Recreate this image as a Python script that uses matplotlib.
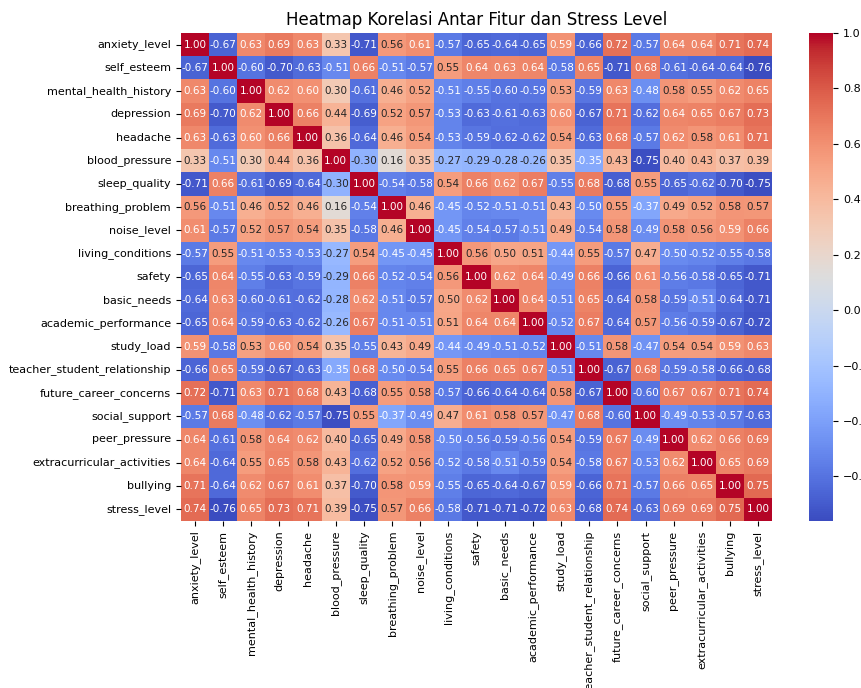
import numpy as np
import matplotlib
matplotlib.use("Agg")
import matplotlib.pyplot as plt
import seaborn as sns

# Feature names (same order on both axes)
features = [
    "anxiety_level", "self_esteem", "mental_health_history", "depression",
    "headache", "blood_pressure", "sleep_quality", "breathing_problem",
    "noise_level", "living_conditions", "safety", "basic_needs",
    "academic_performance", "study_load", "teacher_student_relationship",
    "future_career_concerns", "social_support", "peer_pressure",
    "extracurricular_activities", "bullying", "stress_level",
]

# Correlation values
anxiety_level = [1.00, -0.67, 0.63, 0.69, 0.63, 0.33, -0.71, 0.56, 0.61, -0.57, -0.65, -0.64, -0.65, 0.59, -0.66, 0.72, -0.57, 0.64, 0.64, 0.71, 0.74]
self_esteem = [-0.67, 1.00, -0.60, -0.70, -0.63, -0.51, 0.66, -0.51, -0.57, 0.55, 0.64, 0.63, 0.64, -0.58, 0.65, -0.71, 0.68, -0.61, -0.64, -0.64, -0.76]
mental_health_history = [0.63, -0.60, 1.00, 0.62, 0.60, 0.30, -0.61, 0.46, 0.52, -0.51, -0.55, -0.60, -0.59, 0.53, -0.59, 0.63, -0.48, 0.58, 0.55, 0.62, 0.65]
depression = [0.69, -0.70, 0.62, 1.00, 0.66, 0.44, -0.69, 0.52, 0.57, -0.53, -0.63, -0.61, -0.63, 0.60, -0.67, 0.71, -0.62, 0.64, 0.65, 0.67, 0.73]
headache = [0.63, -0.63, 0.60, 0.66, 1.00, 0.36, -0.64, 0.46, 0.54, -0.53, -0.59, -0.62, -0.62, 0.54, -0.63, 0.68, -0.57, 0.62, 0.58, 0.61, 0.71]
blood_pressure = [0.33, -0.51, 0.30, 0.44, 0.36, 1.00, -0.30, 0.16, 0.35, -0.27, -0.29, -0.28, -0.26, 0.35, -0.35, 0.43, -0.75, 0.40, 0.43, 0.37, 0.39]
sleep_quality = [-0.71, 0.66, -0.61, -0.69, -0.64, -0.30, 1.00, -0.54, -0.58, 0.54, 0.66, 0.62, 0.67, -0.55, 0.68, -0.68, 0.55, -0.65, -0.62, -0.70, -0.75]
breathing_problem = [0.56, -0.51, 0.46, 0.52, 0.46, 0.16, -0.54, 1.00, 0.46, -0.45, -0.52, -0.51, -0.51, 0.43, -0.50, 0.55, -0.37, 0.49, 0.52, 0.58, 0.57]
noise_level = [0.61, -0.57, 0.52, 0.57, 0.54, 0.35, -0.58, 0.46, 1.00, -0.45, -0.54, -0.57, -0.51, 0.49, -0.54, 0.58, -0.49, 0.58, 0.56, 0.59, 0.66]
living_conditions = [-0.57, 0.55, -0.51, -0.53, -0.53, -0.27, 0.54, -0.45, -0.45, 1.00, 0.56, 0.50, 0.51, -0.44, 0.55, -0.57, 0.47, -0.50, -0.52, -0.55, -0.58]
safety = [-0.65, 0.64, -0.55, -0.63, -0.59, -0.29, 0.66, -0.52, -0.54, 0.56, 1.00, 0.62, 0.64, -0.49, 0.66, -0.66, 0.61, -0.56, -0.58, -0.65, -0.71]
basic_needs = [-0.64, 0.63, -0.60, -0.61, -0.62, -0.28, 0.62, -0.51, -0.57, 0.50, 0.62, 1.00, 0.64, -0.51, 0.65, -0.64, 0.58, -0.59, -0.51, -0.64, -0.71]
academic_performance = [-0.65, 0.64, -0.59, -0.63, -0.62, -0.26, 0.67, -0.51, -0.51, 0.51, 0.64, 0.64, 1.00, -0.52, 0.67, -0.64, 0.57, -0.56, -0.59, -0.67, -0.72]
study_load = [0.59, -0.58, 0.53, 0.60, 0.54, 0.35, -0.55, 0.43, 0.49, -0.44, -0.49, -0.51, -0.52, 1.00, -0.51, 0.58, -0.47, 0.54, 0.54, 0.59, 0.63]
teacher_student_relationship = [-0.66, 0.65, -0.59, -0.67, -0.63, -0.35, 0.68, -0.50, -0.54, 0.55, 0.66, 0.65, 0.67, -0.51, 1.00, -0.67, 0.68, -0.59, -0.58, -0.66, -0.68]
future_career_concerns = [0.72, -0.71, 0.63, 0.71, 0.68, 0.43, -0.68, 0.55, 0.58, -0.57, -0.66, -0.64, -0.64, 0.58, -0.67, 1.00, -0.60, 0.67, 0.67, 0.71, 0.74]
social_support = [-0.57, 0.68, -0.48, -0.62, -0.57, -0.75, 0.55, -0.37, -0.49, 0.47, 0.61, 0.58, 0.57, -0.47, 0.68, -0.60, 1.00, -0.49, -0.53, -0.57, -0.63]
peer_pressure = [0.64, -0.61, 0.58, 0.64, 0.62, 0.40, -0.65, 0.49, 0.58, -0.50, -0.56, -0.59, -0.56, 0.54, -0.59, 0.67, -0.49, 1.00, 0.62, 0.66, 0.69]
extracurricular_activities = [0.64, -0.64, 0.55, 0.65, 0.58, 0.43, -0.62, 0.52, 0.56, -0.52, -0.58, -0.51, -0.59, 0.54, -0.58, 0.67, -0.53, 0.62, 1.00, 0.65, 0.69]
bullying = [0.71, -0.64, 0.62, 0.67, 0.61, 0.37, -0.70, 0.58, 0.59, -0.55, -0.65, -0.64, -0.67, 0.59, -0.66, 0.71, -0.57, 0.66, 0.65, 1.00, 0.75]
stress_level = [0.74, -0.76, 0.65, 0.73, 0.71, 0.39, -0.75, 0.57, 0.66, -0.58, -0.71, -0.71, -0.72, 0.63, -0.68, 0.74, -0.63, 0.69, 0.69, 0.75, 1.00]

corr = np.array([
    anxiety_level, self_esteem, mental_health_history, depression, headache,
    blood_pressure, sleep_quality, breathing_problem, noise_level,
    living_conditions, safety, basic_needs, academic_performance, study_load,
    teacher_student_relationship, future_career_concerns, social_support,
    peer_pressure, extracurricular_activities, bullying, stress_level,
])

fig = plt.figure(figsize=(8.61, 6.88), dpi=100)
ax = fig.add_axes([0.210, 0.243, 0.687, 0.709])
cax = fig.add_axes([0.9396, 0.243, 0.028, 0.709])

sns.heatmap(corr, annot=True, fmt=".2f", cmap="coolwarm",
            xticklabels=features, yticklabels=features,
            annot_kws={"fontsize": 7.5}, ax=ax, cbar_ax=cax)

ax.set_title("Heatmap Korelasi Antar Fitur dan Stress Level", fontsize=12)
ax.tick_params(axis="both", labelsize=8)
plt.setp(ax.get_xticklabels(), rotation=90)
plt.setp(ax.get_yticklabels(), rotation=0)
cax.tick_params(labelsize=8)

fig.savefig("out.png", dpi=100)
